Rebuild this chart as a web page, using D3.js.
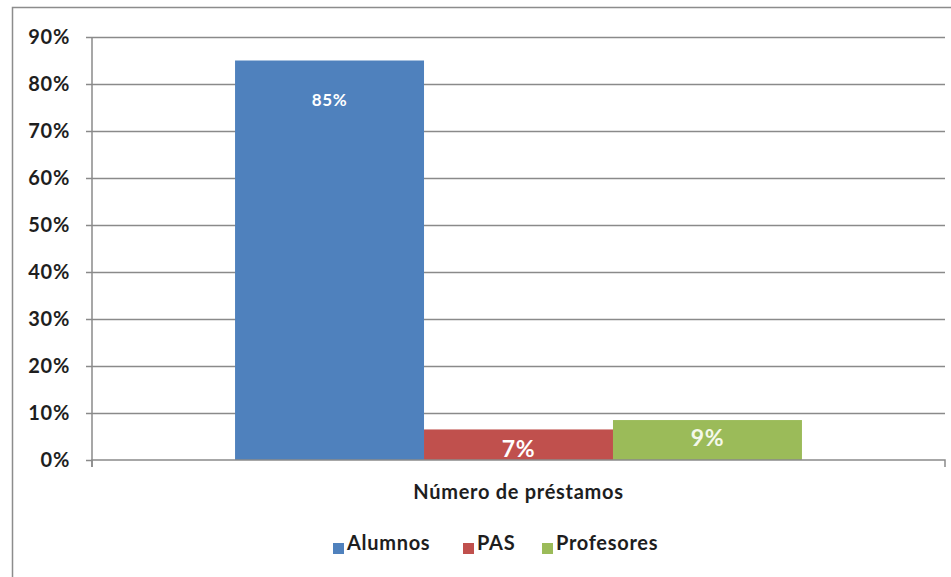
<!DOCTYPE html>
<html lang="es">
<head>
<meta charset="utf-8">
<title>Número de préstamos</title>
<script src="https://d3js.org/d3.v7.min.js"></script>
<style>
  body { margin: 0; background: #fff; }
  text { font-family: Lato, "Liberation Sans", sans-serif; font-weight: bold; letter-spacing: 0.7px; }
</style>
</head>
<body>
<div id="chart"></div>
<script>
// data
const categories = ["Número de préstamos"];
const series = ["Alumnos", "PAS", "Profesores"];
const values = [0.85, 0.065, 0.085];
const valueLabels = ["85%", "7%", "9%"];
const yTicks = [0, 0.1, 0.2, 0.3, 0.4, 0.5, 0.6, 0.7, 0.8, 0.9];
const colors = ["#4F81BD", "#C0504D", "#9BBB59"];

const W = 951, H = 577;
const margin = { top: 37, right: 6, bottom: 117, left: 92 };
const width = W - margin.left - margin.right,
      height = H - margin.top - margin.bottom;

const svg = d3.select("#chart").append("svg")
  .attr("width", W).attr("height", H);

// chart frame
svg.append("rect")
  .attr("x", 12.5).attr("y", 7.5)
  .attr("width", 1000).attr("height", 600)
  .attr("fill", "#fff").attr("stroke", "#8c8c8c").attr("stroke-width", 1.5);

const g = svg.append("g")
  .attr("transform", "translate(" + margin.left + "," + margin.top + ")");

const y = d3.scaleLinear().domain([0, 0.9]).range([height, 0]);
const x0 = d3.scaleBand().domain(categories).range([0, width]);
const x1 = d3.scaleBand().domain(series).range([0, x0.bandwidth()])
  .paddingInner(0).paddingOuter(0.757);

// gridlines
g.append("g")
  .selectAll("line")
  .data(yTicks.slice(1))
  .join("line")
  .attr("x1", 0).attr("x2", width)
  .attr("y1", d => Math.round(y(d)) + 0.5).attr("y2", d => Math.round(y(d)) + 0.5)
  .attr("stroke", "#8a8a8a").attr("stroke-width", 1.5);

// bars
g.append("g")
  .selectAll("rect")
  .data(series)
  .join("rect")
  .attr("x", d => x0(categories[0]) + x1(d))
  .attr("y", (d, i) => y(values[i]))
  .attr("width", x1.bandwidth())
  .attr("height", (d, i) => height - y(values[i]))
  .attr("fill", (d, i) => colors[i]);

// value labels
const labelSize = [17, 23, 23];
const labelOffset = [41, 22, 20];
g.append("g")
  .selectAll("text")
  .data(series)
  .join("text")
  .attr("x", d => x0(categories[0]) + x1(d) + x1.bandwidth() / 2)
  .attr("y", (d, i) => y(values[i]) + labelOffset[i])
  .attr("text-anchor", "middle")
  .attr("dominant-baseline", "middle")
  .attr("fill", (d, i) => i == 2 ? "#f4f8ea" : "#fff")
  .style("font-size", (d, i) => labelSize[i] + "px")
  .text((d, i) => valueLabels[i]);

// y axis
const yAxis = g.append("g")
  .call(d3.axisLeft(y).tickValues(yTicks).tickFormat(d3.format(".0%")).tickSize(6).tickPadding(16));
yAxis.select(".domain").attr("d", "M0,0V" + (height + 7)).attr("stroke", "#8a8a8a").attr("stroke-width", 1.5);
yAxis.selectAll(".tick line").attr("stroke", "#8a8a8a").attr("stroke-width", 1.5);
yAxis.selectAll(".tick text")
  .style("font-size", "20px").attr("fill", "#1e1e1e")
  .style("font-family", "Lato, 'Liberation Sans', sans-serif").style("font-weight", "bold");

// x axis
const xAxis = g.append("g")
  .attr("transform", "translate(0," + height + ")")
  .call(d3.axisBottom(x0).tickSize(0).tickFormat(""));
xAxis.select(".domain").attr("d", "M0,7V0H" + width + "V7").attr("stroke", "#8a8a8a").attr("stroke-width", 1.5);

g.append("text")
  .attr("x", width / 2).attr("y", height + 39)
  .attr("text-anchor", "middle")
  .style("font-size", "20px").attr("fill", "#1e1e1e")
  .text(categories[0]);

// legend
const legendX = [333, 463, 542];
const legend = svg.append("g")
  .selectAll("g")
  .data(series)
  .join("g")
  .attr("transform", (d, i) => "translate(" + legendX[i] + ",544)");
legend.append("rect")
  .attr("x", 0).attr("y", -1).attr("width", 11).attr("height", 11)
  .attr("fill", (d, i) => colors[i]);
legend.append("text")
  .attr("x", 14).attr("y", 1)
  .attr("dominant-baseline", "middle")
  .style("font-size", "20px").attr("fill", "#1e1e1e")
  .text(d => d);
</script>
</body>
</html>
